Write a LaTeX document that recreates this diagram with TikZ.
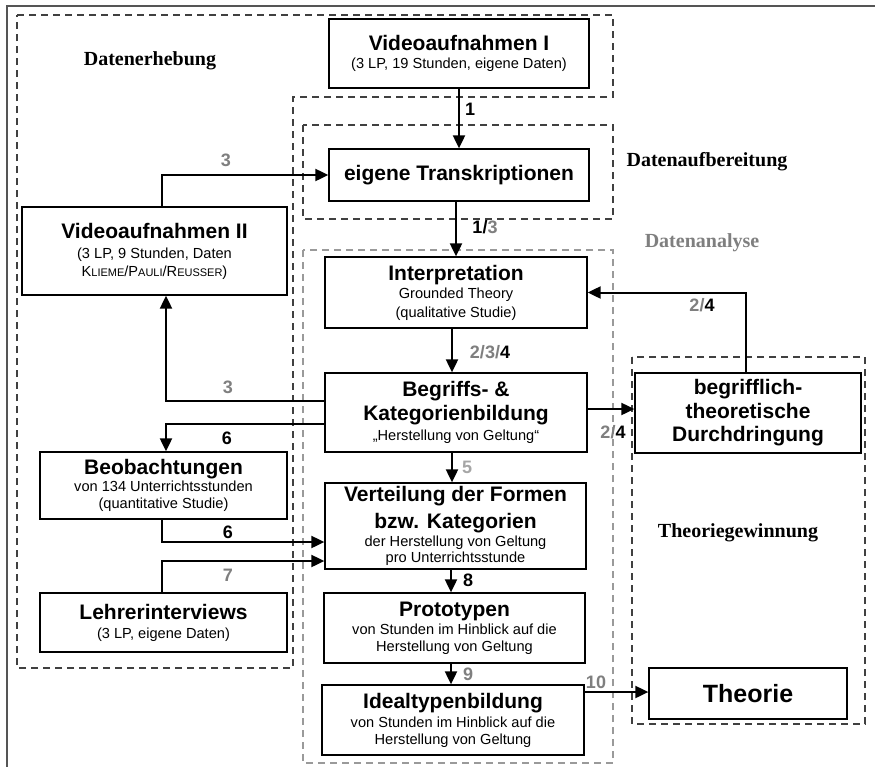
\documentclass[tikz,border=0pt]{standalone}
\usepackage{fontspec}
\setmainfont{Liberation Sans}
\newfontfamily\serifface{Liberation Serif}
\usetikzlibrary{arrows.meta}
\definecolor{lbl}{HTML}{7F7F7F}
\definecolor{lbllight}{HTML}{A6A6A6}
\definecolor{dashdark}{HTML}{404040}
\definecolor{dashlight}{HTML}{9A9A9A}
\definecolor{framec}{HTML}{555555}
\newcommand\fsz[2]{\fontsize{#1}{#2}\selectfont}
\newcommand\ttl[1]{{\fsz{21}{24}\bfseries #1}}
\newcommand\fsc[1]{{\fsz{11}{12}#1}}
\begin{document}
\begin{tikzpicture}[x=1pt,y=-1pt,
  box/.style={draw=black, line width=1.3pt, fill=white, inner sep=0pt, align=center, font=\fsz{14.6}{18}},
  arr/.style={line width=2pt, -{Triangle[length=13pt,width=12pt]}},
  num/.style={font=\fsz{18}{20}\bfseries, inner sep=0pt},
  grp/.style={dashdark, line width=2pt, dash pattern=on 7pt off 5pt},
  grplight/.style={dashlight, line width=1.5pt, dash pattern=on 7pt off 5pt},
  phase/.style={font=\serifface\bfseries\fsz{20}{24}, inner sep=0pt}
]
\useasboundingbox (0,0) rectangle (875,766);
\fill[white] (0,0) rectangle (875,766);
% outer frame
\draw[framec, line width=2pt] (7,790) -- (7,6) -- (900,6);

% group frames
\draw[grp] (17,15) -- (613,15) -- (613,97) -- (293,97) -- (293,668) -- (17,668) -- cycle;
\draw[grp] (303,125) rectangle (613,219);
\draw[grplight] (303,250) rectangle (613,763);
\draw[grp] (632,357) rectangle (865,724);

% phase labels
\node[phase] (lerheb) at (150,61) {Datenerhebung};
\node[phase] (laufb) at (707,162) {Datenaufbereitung};
\node[phase, text=lbl] (lanal) at (702,243) {Datenanalyse};
\node[phase] (ltheo) at (738,533) {Theoriegewinnung};

% boxes
\node[box, minimum width=260, minimum height=69] (vid1) at (459,53.5)
  {\ttl{Videoaufnahmen I}\\(3 LP, 19 Stunden, eigene Daten)};
\node[box, minimum width=260, minimum height=52] (trans) at (459,175)
  {\ttl{eigene Transkriptionen}};
\node[box, minimum width=265, minimum height=88] (vid2) at (154.5,251)
  {\ttl{Videoaufnahmen II}\\[2pt](3 LP, 9 Stunden, Daten\\K\fsc{LIEME}/P\fsc{AULI}/R\fsc{EUSSER})};
\node[box, minimum width=262, minimum height=71] (interp) at (456,292.5)
  {\ttl{Interpretation}\\Grounded Theory\\[1pt](qualitative Studie)};
\node[box, minimum width=262, minimum height=79] (begr) at (456,412.5)
  {\ttl{Begriffs- \&}\\[4pt]\ttl{Kategorienbildung}\\[2pt]„Herstellung von Geltung“};
\node[box, minimum width=226, minimum height=80, font=\fsz{21}{23.5}\bfseries] (durch) at (748,413)
  {begrifflich-\\theoretische\\Durchdringung};
\node[box, minimum width=247, minimum height=67] (beob) at (163.5,485.5)
  {\ttl{Beobachtungen}\\[-1pt]von 134 Unterrichtsstunden\\[-1pt](quantitative Studie)};
\node[box, minimum width=261, minimum height=86] (vert) at (455.5,526)
  {\ttl{Verteilung der Formen}\\[6pt]\ttl{bzw. Kategorien}\\der Herstellung von Geltung\\[-2pt]pro Unterrichtsstunde};
\node[box, minimum width=247, minimum height=59] (lehr) at (163.5,622.5)
  {\ttl{Lehrerinterviews}\\[1pt](3 LP, eigene Daten)};
\node[box, minimum width=261, minimum height=70] (proto) at (454.5,628)
  {\ttl{Prototypen}\\von Stunden im Hinblick auf die\\[-1pt]Herstellung von Geltung};
\node[box, minimum width=262, minimum height=70] (ideal) at (453,720)
  {\ttl{Idealtypenbildung}\\[1pt]von Stunden im Hinblick auf die\\[-1pt]Herstellung von Geltung};
\node[box, minimum width=198, minimum height=51, font=\fsz{25}{28}\bfseries] (theo) at (748,693.5)
  {Theorie};

% connectors
\draw[arr] (vid1.south) -- (trans.north);
\draw[arr] (trans.south -| interp.north) -- (interp.north);
\draw[arr] ([xshift=7.5pt]vid2.north) |- (trans.west);
\draw[arr] ([xshift=-4pt]interp.south) -- ([xshift=-4pt]begr.north);
\draw[arr] ([yshift=11.5pt]begr.west) -| ([xshift=11.5pt]vid2.south);
\draw[arr] ([yshift=-11.5pt]begr.west) -| ([xshift=2.5pt]beob.north);
\draw[arr] ([yshift=3.5pt]begr.east) -- ([yshift=3.5pt]begr.east -| durch.west);
\draw[arr] ([xshift=-2pt]durch.north) |- (interp.east);
\draw[arr] ([xshift=-4pt]begr.south) -- ([xshift=-4pt]begr.south |- vert.north);
\draw[arr] ([xshift=-1.5pt]beob.south) |- ([yshift=-16pt]vert.west);
\draw[arr] ([xshift=-1.5pt]lehr.north) |- ([yshift=-35pt]vert.west);
\draw[arr] ([xshift=-4.5pt]vert.south) -- ([xshift=-4.5pt]vert.south |- proto.north);
\draw[arr] ([xshift=-3.5pt]proto.south) -- ([xshift=-3.5pt]proto.south |- ideal.north);
\draw[arr] ([yshift=28pt]ideal.east) -- ([yshift=28pt]ideal.east -| theo.west);

% connector labels
\node[num] (n1) at (470,109) {1};
\node[num] (n13) at (485,227) {1/\textcolor{lbl}{3}};
\node[num, text=lbl] (n3a) at (226,160) {3};
\node[num] (n234) at (490,352) {\textcolor{lbl}{2/3/}4};
\node[num, text=lbl] (n3b) at (228,387) {3};
\node[num] (n6a) at (227,438) {6};
\node[num] (n24a) at (613,432) {\textcolor{lbl}{2/}4};
\node[num] (n24b) at (702,305) {\textcolor{lbl}{2/}4};
\node[num, text=lbllight] (n5) at (467,467) {5};
\node[num] (n6b) at (228,532) {6};
\node[num, text=lbl] (n7) at (228,575) {7};
\node[num] (n8) at (468,580) {8};
\node[num, text=lbl] (n9) at (468,674) {9};
\node[num, text=lbl] (n10) at (596,682) {10};
\end{tikzpicture}
\end{document}
